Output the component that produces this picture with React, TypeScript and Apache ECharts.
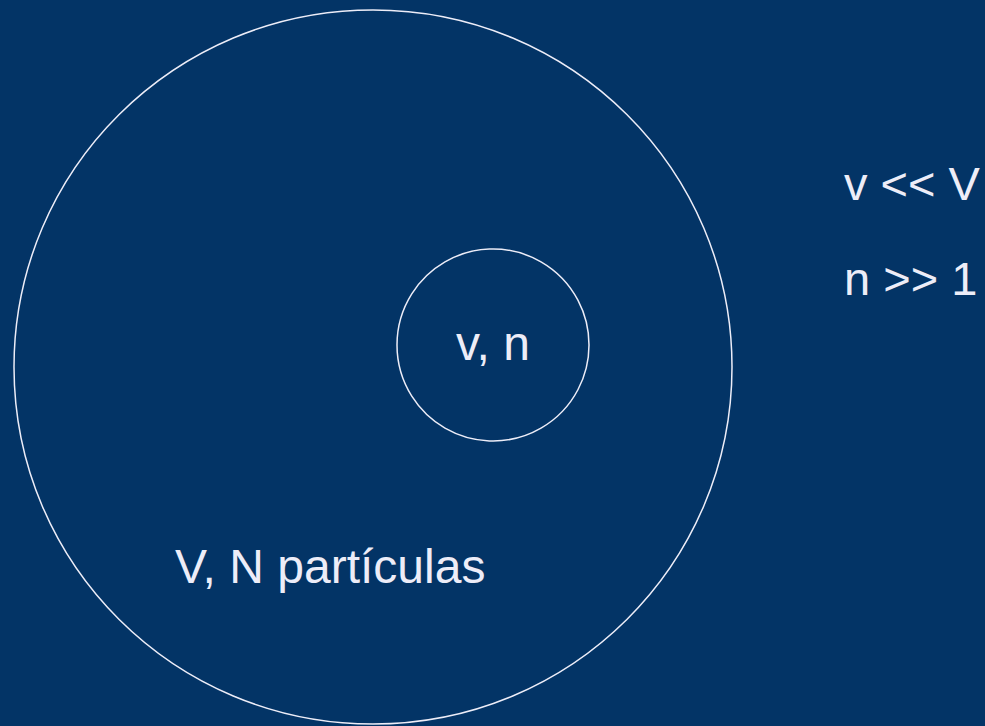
import React, { useEffect, useRef } from "react";
import * as echarts from "echarts";

const circleLabels = ["V, N partículas", "v, n"];
const conditionLabels = ["v << V", "n >> 1"];

export default function App() {
  const ref = useRef<HTMLDivElement>(null);
  useEffect(() => {
    if (!ref.current) return;
    const chart = echarts.init(ref.current, null, { renderer: "svg" });
    const fg = "#EDEDF8";
    const font = "Liberation Sans, Arial, sans-serif";
    const txt = (text: string, x: number, y: number, size: number, align: string) => ({
      type: "text",
      x,
      y,
      style: { text, fill: fg, font: `${size}px ${font}`, textAlign: align, textVerticalAlign: "middle" },
    });
    chart.setOption({
      animation: false,
      backgroundColor: "#033466",
      graphic: [
        {
          type: "ellipse",
          shape: { cx: 373, cy: 367, rx: 359, ry: 357 },
          style: { fill: "none", stroke: fg, lineWidth: 1.5 },
        },
        {
          type: "circle",
          shape: { cx: 493, cy: 345, r: 96 },
          style: { fill: "none", stroke: fg, lineWidth: 1.5 },
        },
        txt(circleLabels[1], 493, 343, 48, "center"),
        txt(circleLabels[0], 175, 566, 48, "left"),
        txt(conditionLabels[0], 844, 183, 47, "left"),
        txt(conditionLabels[1], 844, 278, 47, "left"),
      ],
    });
    return () => chart.dispose();
  }, []);
  return <div ref={ref} style={{ width: 985, height: 726, position: "absolute", left: 0, top: 0 }} />;
}
